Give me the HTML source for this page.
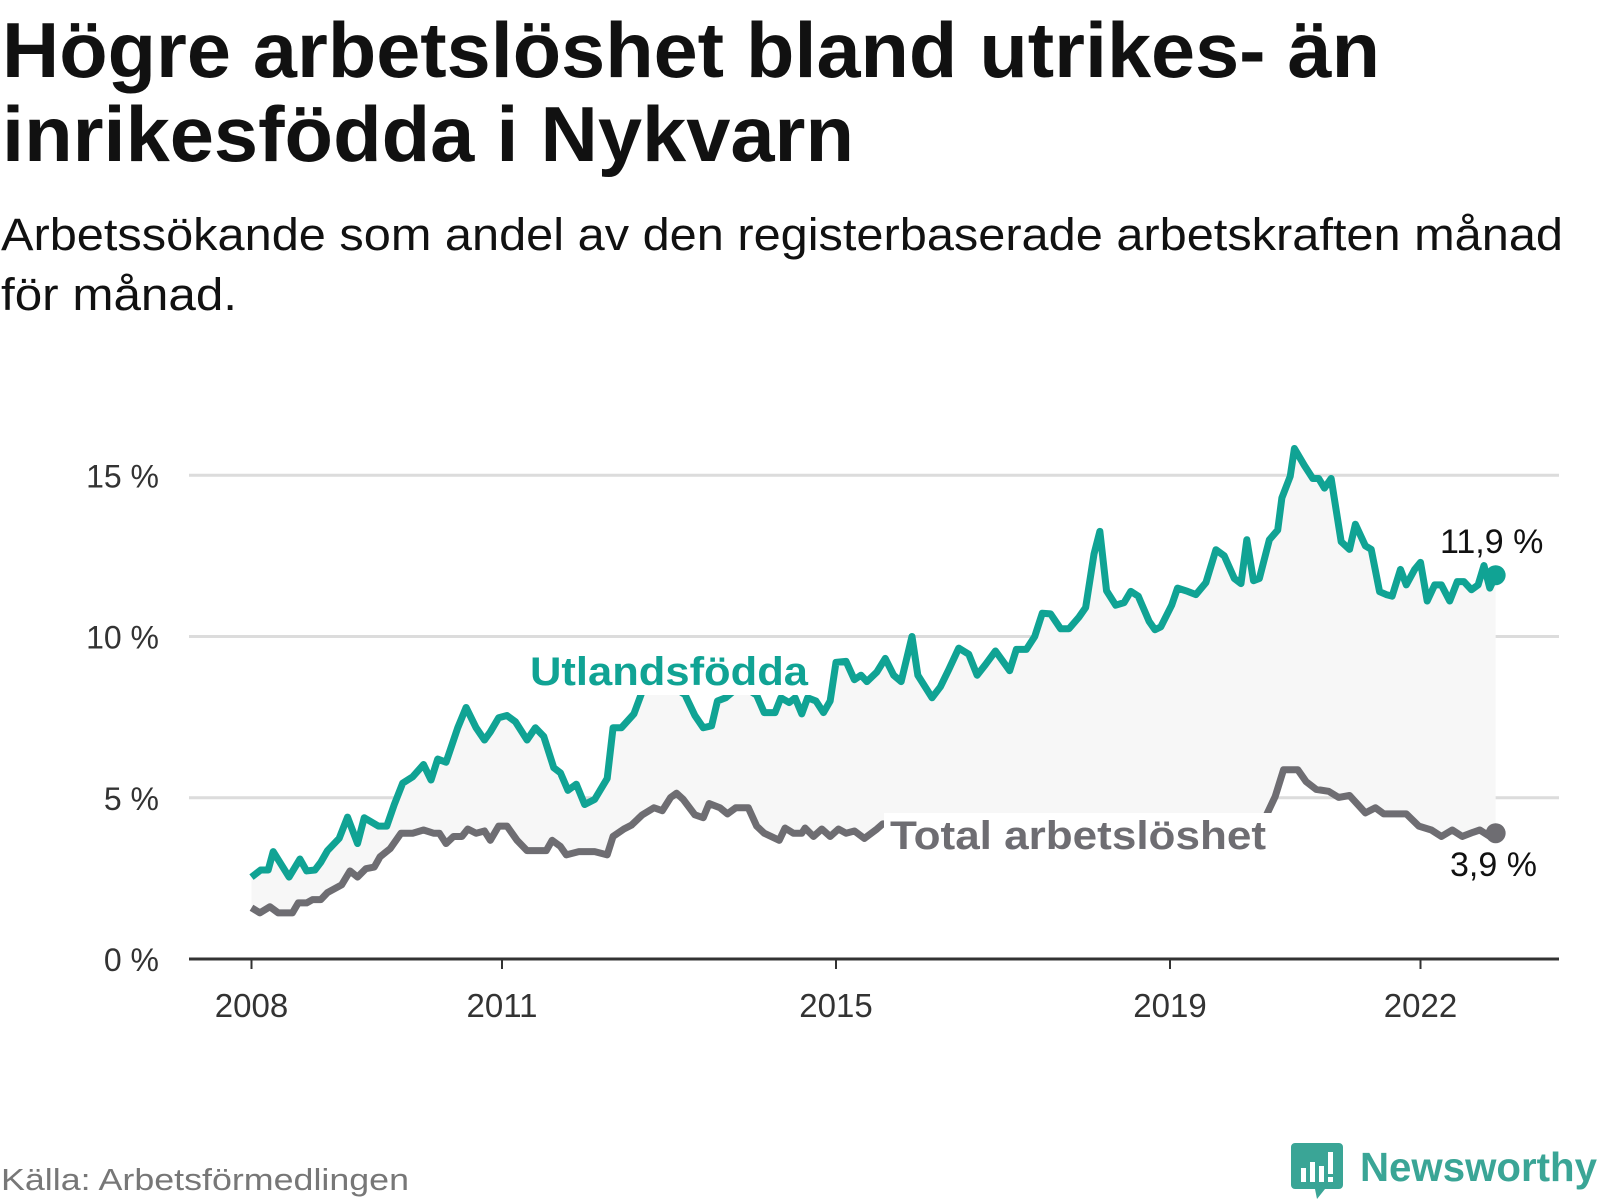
<!DOCTYPE html>
<html><head><meta charset="utf-8"><style>
html,body{margin:0;padding:0;background:#fff;}
svg{display:block;font-family:"Liberation Sans",sans-serif;}
</style></head><body>
<svg id="chart" width="1600" height="1200" viewBox="0 0 1600 1200" xmlns="http://www.w3.org/2000/svg">
<text x="2" y="77" font-size="78" font-weight="bold" fill="#111" textLength="1378" lengthAdjust="spacingAndGlyphs">Högre arbetslöshet bland utrikes- än</text>
<text x="2" y="161" font-size="78" font-weight="bold" fill="#111" textLength="852" lengthAdjust="spacingAndGlyphs">inrikesfödda i Nykvarn</text>
<text x="1" y="250" font-size="45" fill="#111" textLength="1562" lengthAdjust="spacingAndGlyphs">Arbetssökande som andel av den registerbaserade arbetskraften månad</text>
<text x="1" y="310" font-size="45" fill="#111" textLength="236" lengthAdjust="spacingAndGlyphs">för månad.</text>
<g id="plot"></g>
<text x="1" y="1190" font-size="31" fill="#777" textLength="408" lengthAdjust="spacingAndGlyphs">Källa: Arbetsförmedlingen</text>
<g>
<path d="M1295 1143 h44 a4 4 0 0 1 4 4 v38 a4 4 0 0 1 -4 4 h-14 l-8 10 l-2 -10 h-20 a4 4 0 0 1 -4 -4 v-38 a4 4 0 0 1 4 -4z" fill="#3aa596"/>
<rect x="1301" y="1168" width="5" height="14" fill="#fff"/><rect x="1310" y="1162" width="5" height="20" fill="#fff"/><rect x="1319" y="1166" width="5" height="16" fill="#fff"/><rect x="1328" y="1152" width="5" height="22" fill="#fff"/><rect x="1328" y="1177" width="5" height="5" fill="#fff"/>
<text x="1360" y="1181" font-size="41" font-weight="bold" fill="#3aa596" textLength="237" lengthAdjust="spacingAndGlyphs">Newsworthy</text>
</g>
</svg>
<script>
const yTicks = [0, 5, 10, 15];
const yTickLabels = ["0 %", "5 %", "10 %", "15 %"];
const xTicks = [2008, 2011, 2015, 2019, 2022];
const xTickLabels = ["2008", "2011", "2015", "2019", "2022"];
const foreignDates = [0,.11,.2,.26,.45,.58,.66,.76,.83,.91,1.05,1.15,1.27,1.35,1.52,1.62,1.71,1.81,1.93,2.06,2.15,2.23,2.33,2.47,2.57,2.69,2.79,2.86,2.96,3.06,3.16,3.3,3.4,3.5,3.62,3.7,3.79,3.89,3.99,4.11,4.26,4.33,4.43,4.58,4.68,4.82,5.01,5.19,5.31,5.41,5.51,5.58,5.68,5.86,6.05,6.14,6.27,6.34,6.44,6.51,6.59,6.66,6.76,6.85,6.93,7,7.12,7.22,7.3,7.37,7.49,7.59,7.69,7.78,7.91,7.98,8.15,8.25,8.35,8.47,8.59,8.69,8.79,8.91,9.08,9.16,9.28,9.38,9.47,9.57,9.69,9.79,9.91,9.99,10.09,10.16,10.24,10.35,10.45,10.53,10.62,10.75,10.82,10.89,11.02,11.09,11.21,11.31,11.43,11.55,11.65,11.77,11.85,11.92,12,12.07,12.19,12.29,12.34,12.44,12.49,12.61,12.71,12.78,12.85,12.93,13.05,13.15,13.22,13.34,13.41,13.51,13.59,13.66,13.76,13.83,13.93,14,14.08,14.17,14.25,14.35,14.44,14.52,14.61,14.69,14.76,14.83,14.9].map(d => 2008 + d);
const foreignValues = [2.54,2.76,2.76,3.33,2.54,3.1,2.73,2.76,3.0,3.36,3.74,4.4,3.58,4.38,4.12,4.12,4.79,5.45,5.65,6.03,5.55,6.2,6.1,7.17,7.8,7.17,6.79,7.04,7.48,7.55,7.36,6.79,7.17,6.9,5.93,5.77,5.23,5.42,4.79,4.95,5.6,7.17,7.17,7.6,8.3,8.6,8.5,8.2,7.55,7.17,7.23,8.0,8.1,8.5,8.18,7.64,7.64,8.1,7.95,8.1,7.6,8.1,8.0,7.64,8.0,9.2,9.23,8.66,8.8,8.6,8.9,9.32,8.8,8.6,10.0,8.8,8.1,8.44,8.97,9.64,9.45,8.8,9.13,9.55,8.94,9.6,9.6,10.0,10.72,10.7,10.24,10.24,10.6,10.9,12.56,13.26,11.42,10.97,11.05,11.4,11.25,10.47,10.21,10.3,10.97,11.5,11.4,11.3,11.67,12.69,12.5,11.8,11.64,13.0,11.73,11.8,13.0,13.3,14.3,14.97,15.83,15.3,14.9,14.9,14.6,14.9,12.94,12.7,13.48,12.81,12.7,11.39,11.3,11.25,12.08,11.6,12.08,12.3,11.1,11.6,11.6,11.1,11.7,11.7,11.45,11.6,12.2,11.5,11.9];
const totalDates = [0,.1,.22,.32,.49,.56,.66,.73,.83,.91,1.08,1.18,1.27,1.37,1.47,1.54,1.66,1.79,1.93,2.06,2.18,2.25,2.33,2.42,2.52,2.59,2.69,2.79,2.86,2.96,3.06,3.18,3.3,3.4,3.53,3.6,3.7,3.77,3.92,4.11,4.26,4.33,4.46,4.55,4.68,4.82,4.92,5.02,5.09,5.17,5.31,5.41,5.48,5.61,5.7,5.8,5.95,6.05,6.14,6.32,6.39,6.49,6.59,6.63,6.73,6.83,6.93,7.03,7.12,7.22,7.34,7.49,7.56,8.0,8.74,9.47,10.2,10.94,11.67,12.14,12.26,12.36,12.53,12.63,12.75,12.9,13.02,13.15,13.34,13.46,13.56,13.83,13.98,14.13,14.25,14.38,14.5,14.63,14.71,14.83,14.9].map(d => 2008 + d);
const totalValues = [1.59,1.43,1.62,1.43,1.43,1.74,1.74,1.84,1.84,2.06,2.3,2.73,2.54,2.8,2.85,3.17,3.42,3.9,3.9,4.0,3.9,3.9,3.58,3.8,3.8,4.03,3.9,3.97,3.68,4.12,4.12,3.68,3.36,3.36,3.36,3.68,3.49,3.23,3.33,3.33,3.23,3.8,4.03,4.15,4.47,4.69,4.6,5.01,5.14,4.95,4.47,4.38,4.82,4.69,4.5,4.69,4.69,4.12,3.9,3.68,4.06,3.9,3.9,4.06,3.8,4.03,3.8,4.03,3.9,3.97,3.74,4.03,4.19,4.1,3.9,3.8,3.9,3.7,4.0,4.38,5.04,5.87,5.87,5.5,5.26,5.2,5.01,5.07,4.53,4.69,4.5,4.5,4.12,4.0,3.8,4.0,3.8,3.93,4.0,3.8,3.9];
const foreignLabel = "11,9 %";
const totalLabel = "3,9 %";

const NS = "http://www.w3.org/2000/svg";
const plot = document.getElementById("plot");
const X0 = 251.5, PX_PER_YEAR = 83.5, Y0 = 959, PX_PER_PCT = 32.25;
function xScale(year){ return X0 + (year - 2008) * PX_PER_YEAR; }
function yScale(v){ return Y0 - v * PX_PER_PCT; }
function mk(tag, attrs){ const e = document.createElementNS(NS, tag); for (const k in attrs) e.setAttribute(k, attrs[k]); plot.appendChild(e); return e; }

yTicks.forEach((t, i) => {
  if (t > 0) {
    const g = mk("line", {x1: 189, x2: 1559, y1: yScale(t), y2: yScale(t), stroke: "#dcdcdc", "stroke-width": 3});
    
    
  }
  const lb = mk("text", {x: 159, y: yScale(t) + 12, "font-size": 32, fill: "#333", "text-anchor": "end"});
  lb.textContent = yTickLabels[i];
  
  
});

const fwd = foreignDates.map((d, i) => xScale(d) + "," + yScale(foreignValues[i]));
const back = totalDates.map((d, i) => xScale(d) + "," + yScale(totalValues[i])).reverse();
const area = mk("polygon", {points: fwd.concat(back).join(" "), fill: "#f7f7f7"});



const axis = mk("line", {x1: 189, x2: 1559, y1: Y0, y2: Y0, stroke: "#333", "stroke-width": 3});


xTicks.forEach((t, i) => {
  const tk = mk("line", {x1: xScale(t), x2: xScale(t), y1: Y0, y2: Y0 + 10, stroke: "#333", "stroke-width": 2});
  
  
  const lb = mk("text", {x: xScale(t), y: 1017, "font-size": 33, fill: "#333", "text-anchor": "middle"});
  lb.textContent = xTickLabels[i];
  
  
});

function line(dates, vals, color, name){
  const p = mk("polyline", {points: dates.map((d, i) => xScale(d) + "," + yScale(vals[i])).join(" "), fill: "none", stroke: color, "stroke-width": 7, "stroke-linejoin": "round"});
  
  
}
line(totalDates, totalValues, "#6e6d72", "total-line");
line(foreignDates, foreignValues, "#10a394", "foreign-born-line");

function label(txt, x, y, color, size, name, bold, boxW){
  if (boxW) {
    const r = mk("rect", {x: x - 6, y: y - size * 0.9, width: boxW + 12, height: size * 1.15, fill: "#fff"});
    
    
  }
  const t = mk("text", {x: x, y: y, "font-size": size, fill: color, "font-weight": bold ? "bold" : "normal", stroke: "#fff", "stroke-width": 8, "paint-order": "stroke", "stroke-linejoin": "round"});
  t.textContent = txt;
  
  
  if (boxW) { t.setAttribute("textLength", boxW); t.setAttribute("lengthAdjust", "spacingAndGlyphs"); }
  return t;
}
label("Utlandsfödda", 530, 685, "#10a394", 40, "foreign-born-label", true, 278);
label("Total arbetslöshet", 890, 849, "#6e6d72", 40, "total-label", true, 376);

const nF = foreignDates.length - 1, nT = totalDates.length - 1;
const d1 = mk("circle", {cx: xScale(foreignDates[nF]), cy: yScale(foreignValues[nF]), r: 10, fill: "#10a394"});


const d2 = mk("circle", {cx: xScale(totalDates[nT]), cy: yScale(totalValues[nT]), r: 10, fill: "#6e6d72"});


label(foreignLabel, 1440, yScale(foreignValues[nF]) - 22, "#111", 34, "foreign-born-value", false);
label(totalLabel, 1450, yScale(totalValues[nT]) + 43, "#111", 34, "total-value", false);
</script>
</body></html>
